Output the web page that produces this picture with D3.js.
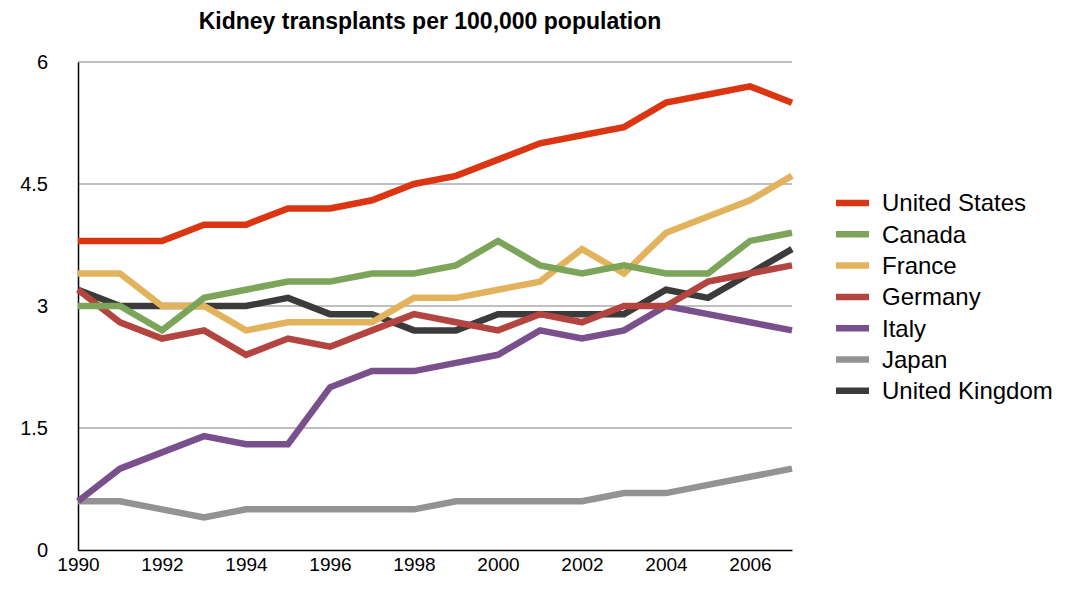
<!DOCTYPE html>
<html lang="en">
<head>
<meta charset="UTF-8">
<title>Kidney transplants</title>
<script src="https://cdn.jsdelivr.net/npm/d3@7"></script>
<style>
  body { margin: 0; background: #fff; font-family: "Helvetica Neue", "Liberation Sans", Arial, sans-serif; }
</style>
</head>
<body>
<div id="chart"></div>
<script>
const years = d3.range(1990, 2008);
const yTicks = [0, 1.5, 3, 4.5, 6];
const xTicks = [1990, 1992, 1994, 1996, 1998, 2000, 2002, 2004, 2006];

const unitedStates = [3.8,3.8,3.8,4.0,4.0,4.2,4.2,4.3,4.5,4.6,4.8,5.0,5.1,5.2,5.5,5.6,5.7,5.5];
const canada = [3.0,3.0,2.7,3.1,3.2,3.3,3.3,3.4,3.4,3.5,3.8,3.5,3.4,3.5,3.4,3.4,3.8,3.9];
const france = [3.4,3.4,3.0,3.0,2.7,2.8,2.8,2.8,3.1,3.1,3.2,3.3,3.7,3.4,3.9,4.1,4.3,4.6];
const germany = [3.2,2.8,2.6,2.7,2.4,2.6,2.5,2.7,2.9,2.8,2.7,2.9,2.8,3.0,3.0,3.3,3.4,3.5];
const italy = [0.6,1.0,1.2,1.4,1.3,1.3,2.0,2.2,2.2,2.3,2.4,2.7,2.6,2.7,3.0,2.9,2.8,2.7];
const japan = [0.6,0.6,0.5,0.4,0.5,0.5,0.5,0.5,0.5,0.6,0.6,0.6,0.6,0.7,0.7,0.8,0.9,1.0];
const unitedKingdom = [3.2,3.0,3.0,3.0,3.0,3.1,2.9,2.9,2.7,2.7,2.9,2.9,2.9,2.9,3.2,3.1,3.4,3.7];

const series = [
  { name: "United States", values: unitedStates, color: "#dc3512" },
  { name: "Canada", values: canada, color: "#7ca55a" },
  { name: "France", values: france, color: "#e2b35c" },
  { name: "Germany", values: germany, color: "#b3443f" },
  { name: "Italy", values: italy, color: "#7a508c" },
  { name: "Japan", values: japan, color: "#939393" },
  { name: "United Kingdom", values: unitedKingdom, color: "#3b3b3b" }
];

const W = 1091, H = 603;
const m = { left: 78, right: 299, top: 62, bottom: 53 };

const svg = d3.select("#chart").append("svg").attr("width", W).attr("height", H);

const x = d3.scaleLinear().domain([1990, 2007]).range([m.left, W - m.right]);
const y = d3.scaleLinear().domain([0, 6]).range([H - m.bottom, m.top]);

// gridlines
svg.append("g").selectAll("line").data(yTicks.filter(d => d > 0)).join("line")
  .attr("x1", m.left).attr("x2", W - m.right)
  .attr("y1", d => y(d)).attr("y2", d => y(d))
  .attr("stroke", "#aaa").attr("stroke-width", 1.5);

// axes
const yAxis = svg.append("g").attr("transform", `translate(${m.left},0)`)
  .call(d3.axisLeft(y).tickValues(yTicks).tickSize(0).tickPadding(30).tickFormat(d3.format("")));
yAxis.select(".domain").attr("stroke", "#000").attr("stroke-width", 1.5);
yAxis.selectAll("text").attr("font-size", 20).attr("fill", "#000").attr("font-family", "inherit");

const xAxis = svg.append("g").attr("transform", `translate(0,${H - m.bottom})`)
  .call(d3.axisBottom(x).tickValues(xTicks).tickSize(0).tickPadding(8).tickFormat(d3.format("d")));
xAxis.select(".domain").attr("stroke", "#000").attr("stroke-width", 1.5);
xAxis.selectAll("text").attr("font-size", 19).attr("fill", "#000").attr("font-family", "inherit");

// lines
const line = d3.line().x((d, i) => x(years[i])).y(d => y(d));
svg.append("g").selectAll("path").data(series.slice().reverse()).join("path")
  .attr("d", d => line(d.values))
  .attr("fill", "none").attr("stroke", d => d.color)
  .attr("stroke-width", 6.5).attr("stroke-linejoin", "miter");

// title
svg.append("text").attr("x", 430).attr("y", 29).attr("text-anchor", "middle")
  .attr("font-size", 23).attr("font-weight", "bold").text("Kidney transplants per 100,000 population");

// legend
const lg = svg.append("g").attr("transform", "translate(836,203)");
const item = lg.selectAll("g").data(series).join("g")
  .attr("transform", (d, i) => `translate(0,${i * 31.3})`);
item.append("line").attr("x1", 0).attr("x2", 33).attr("stroke", d => d.color).attr("stroke-width", 6.5);
item.append("text").attr("x", 46).attr("dy", "0.35em").attr("font-size", 24).text(d => d.name);
</script>
</body>
</html>
